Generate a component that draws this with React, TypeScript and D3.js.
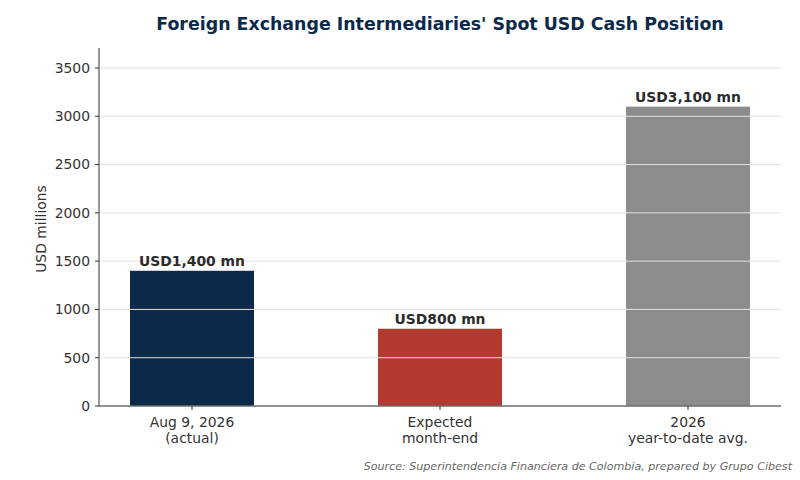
import React from "react";
import * as d3 from "d3";

const categories = ["Aug 9, 2026\n(actual)", "Expected\nmonth-end", "2026\nyear-to-date avg."];
const values = [1400, 800, 3100];
const valueLabels = ["USD1,400 mn", "USD800 mn", "USD3,100 mn"];
const barColors = ["#0b2a4a", "#b33a30", "#8c8c8c"];
const yTicks = [0, 500, 1000, 1500, 2000, 2500, 3000, 3500];

const width = 800;
const height = 480;
const margin = { top: 48, right: 19, bottom: 74, left: 99 };
const font = "DejaVu Sans, sans-serif";

export default function App() {
  const innerW = width - margin.left - margin.right;
  const innerH = height - margin.top - margin.bottom;

  const x = d3
    .scaleBand()
    .domain(categories)
    .range([0, innerW])
    .paddingInner(0.5)
    .paddingOuter(0.125);

  const y = d3.scaleLinear().domain([0, 3707]).range([innerH, 0]);

  return (
    <svg
      width={width}
      height={height}
      style={{ position: "absolute", left: 0, top: 0, background: "#fff" }}
      fontFamily={font}
    >
      <text
        x={margin.left + innerW / 2}
        y={29.5}
        textAnchor="middle"
        fontSize={17.4}
        fontWeight="bold"
        fill="#0b2a4a"
      >
        Foreign Exchange Intermediaries' Spot USD Cash Position
      </text>
      <g transform={`translate(${margin.left},${margin.top})`}>
        {/* bars */}
        {categories.map((c, i) => (
          <rect
            key={c}
            x={x(c)}
            y={y(values[i])}
            width={x.bandwidth()}
            height={innerH - y(values[i])}
            fill={barColors[i]}
          />
        ))}
        {/* grid drawn over bars */}
        {yTicks.map((t) => (
          <line
            key={t}
            x1={0}
            x2={innerW}
            y1={y(t)}
            y2={y(t)}
            stroke="#e3e3e3"
            strokeWidth={1}
          />
        ))}
        {/* value labels */}
        {categories.map((c, i) => (
          <text
            key={c}
            x={(x(c) as number) + x.bandwidth() / 2}
            y={y(values[i]) - 5}
            textAnchor="middle"
            fontSize={13.9}
            fontWeight="bold"
            fill="#2b2b2b"
          >
            {valueLabels[i]}
          </text>
        ))}
        {/* y axis */}
        <line x1={0} x2={0} y1={0} y2={innerH} stroke="#333" strokeWidth={1} />
        {yTicks.map((t) => (
          <g key={t} transform={`translate(0,${y(t)})`}>
            <line x1={-4} x2={0} stroke="#333" />
            <text x={-9} dy="0.35em" textAnchor="end" fontSize={13.9} fill="#333">
              {t}
            </text>
          </g>
        ))}
        <text
          transform={`translate(${-53},${innerH / 2 + 2}) rotate(-90)`}
          textAnchor="middle"
          fontSize={13.9}
          fill="#333"
        >
          USD millions
        </text>
        {/* x axis */}
        <line x1={0} x2={innerW} y1={innerH} y2={innerH} stroke="#333" strokeWidth={1} />
        {categories.map((c) => {
          const cx = (x(c) as number) + x.bandwidth() / 2;
          return (
            <g key={c} transform={`translate(${cx},${innerH})`}>
              <line y1={0} y2={4} stroke="#333" />
              {c.split("\n").map((line, j) => (
                <text key={j} y={21 + j * 15.5} textAnchor="middle" fontSize={13.9} fill="#333">
                  {line}
                </text>
              ))}
            </g>
          );
        })}
      </g>
      <text
        x={792}
        y={470}
        textAnchor="end"
        fontSize={11.1}
        fontStyle="italic"
        fill="#666"
      >
        Source: Superintendencia Financiera de Colombia, prepared by Grupo Cibest
      </text>
    </svg>
  );
}
